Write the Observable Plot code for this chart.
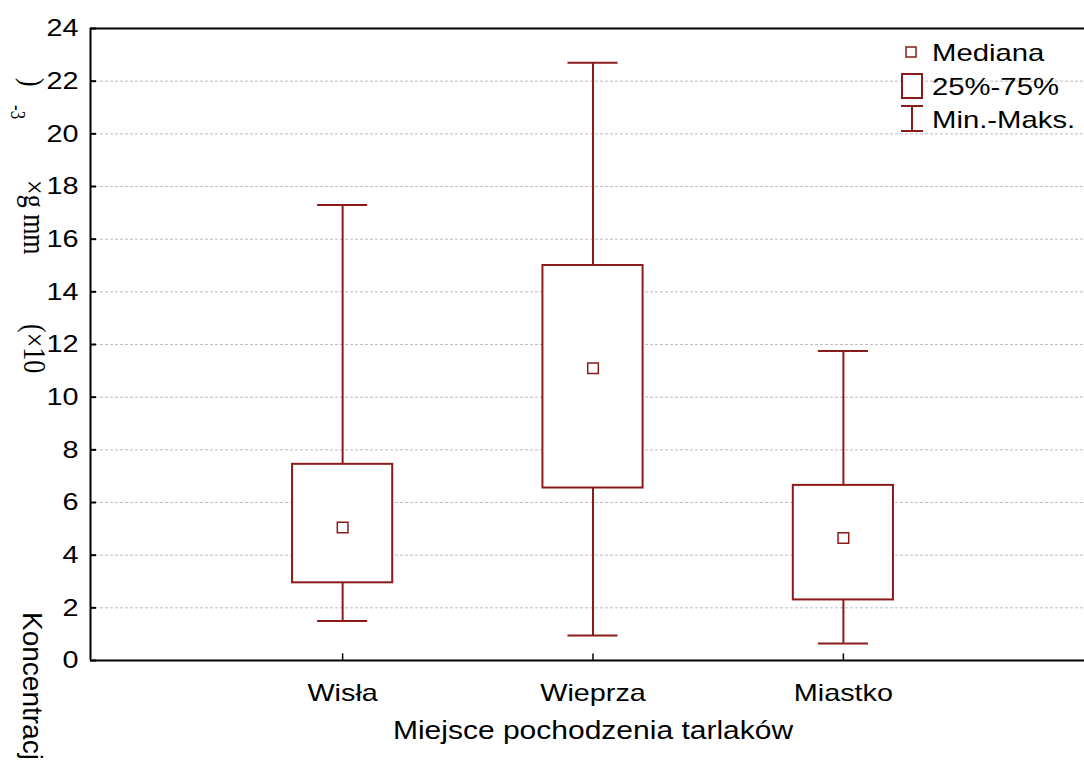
<!DOCTYPE html>
<html><head><meta charset="utf-8">
<script src="https://cdn.jsdelivr.net/npm/d3@7"></script>
<script src="https://cdn.jsdelivr.net/npm/@observablehq/plot@0.6"></script>
<style>body{margin:0;background:#fff;overflow:hidden}</style>
</head><body><div id="chart"></div>
<script>
const categories = ["Wisła", "Wieprza", "Miastko"];
const minValues = [1.5, 0.95, 0.65];
const q1Values = [2.95, 6.55, 2.3];
const medianValues = [5.05, 11.1, 4.65];
const q3Values = [7.45, 15.0, 6.65];
const maxValues = [17.3, 22.7, 11.75];
const yTicks = [0, 2, 4, 6, 8, 10, 12, 14, 16, 18, 20, 22, 24];
const gridTicks = [2, 4, 6, 8, 10, 12, 14, 16, 18, 20, 22];
const legendLabels = ["Mediana", "25%-75%", "Min.-Maks."];
const xTitle = "Miejsce pochodzenia tarlaków";
const yLabelParts = ["Koncentracja", "(×10", "×g mm", "-3", ")"];

const red = "#8b1a1a";
const xMin = -0.007, xMax = 3.963;
const boxes = categories.map((c, i) => ({
  cat: c, pos: i + 1, min: minValues[i], q1: q1Values[i], med: medianValues[i], q3: q3Values[i], max: maxValues[i]
}));

const svg = Plot.plot({
  width: 1084, height: 760,
  marginLeft: 90, marginRight: 0, marginTop: 28, marginBottom: 100,
  style: {fontFamily: "'Liberation Sans', Arial, sans-serif", fontSize: "24px", color: "#000", background: "#fff", overflow: "visible"},
  x: {type: "linear", domain: [xMin, xMax], axis: null},
  y: {domain: [0, 24], axis: null},
  marks: [
    Plot.ruleY(gridTicks, {stroke: "#bdbdbd", strokeDasharray: "3,2", strokeWidth: 1}),
    Plot.ruleX(boxes, {x: "pos", y1: "min", y2: "q1", stroke: red, strokeWidth: 2}),
    Plot.ruleX(boxes, {x: "pos", y1: "q3", y2: "max", stroke: red, strokeWidth: 2}),
    Plot.ruleY(boxes, {y: "min", x1: d => d.pos - 0.1, x2: d => d.pos + 0.1, stroke: red, strokeWidth: 2}),
    Plot.ruleY(boxes, {y: "max", x1: d => d.pos - 0.1, x2: d => d.pos + 0.1, stroke: red, strokeWidth: 2}),
    Plot.rect(boxes, {x1: d => d.pos - 0.2, x2: d => d.pos + 0.2, y1: "q1", y2: "q3", fill: "white", stroke: red, strokeWidth: 2}),
    Plot.dot(boxes, {x: "pos", y: "med", symbol: "square", r: 6, stroke: red, fill: "white", strokeWidth: 1.5}),
    Plot.ruleY(yTicks, {x1: xMin, x2: xMin + 0.024, stroke: "#000", strokeWidth: 2}),
    Plot.ruleX(boxes, {x: "pos", y1: 0, y2: 0.25, stroke: "#000", strokeWidth: 1.5}),
    Plot.ruleX([xMin], {y1: 0, y2: 24, stroke: "#000", strokeWidth: 2}),
    Plot.ruleY([0, 24], {x1: xMin, x2: xMax, stroke: "#000", strokeWidth: 2}),
    Plot.axisY(yTicks, {x: xMin, tickSize: 0, tickPadding: 12, fontSize: 24, label: null}),
    Plot.axisX([1, 2, 3], {tickSize: 0, tickPadding: 23, fontSize: 24, label: null, tickFormat: d => categories[d - 1]}),
    Plot.text([xTitle], {x: () => 2, text: d => d, frameAnchor: "bottom", dy: 78, fontSize: 25})
  ]
});
document.getElementById("chart").appendChild(svg);

// horizontal stretch of text as in the reference
function stretch(el, k) {
  const len = el.getComputedTextLength();
  el.setAttribute("textLength", len * k);
  el.setAttribute("lengthAdjust", "spacingAndGlyphs");
}
svg.querySelectorAll("text").forEach(t => stretch(t, 1.2));

const s = d3.select(svg);
// Legend
const lg = s.append("g").attr("fill", "none").attr("stroke", red).attr("stroke-width", 2);
lg.append("rect").attr("x", 906).attr("y", 47).attr("width", 10).attr("height", 10).attr("stroke-width", 1.5).attr("fill", "white");
lg.append("rect").attr("x", 902).attr("y", 74).attr("width", 20).attr("height", 24).attr("fill", "white");
lg.append("line").attr("x1", 912).attr("x2", 912).attr("y1", 106).attr("y2", 131);
lg.append("line").attr("x1", 901).attr("x2", 923).attr("y1", 106).attr("y2", 106);
lg.append("line").attr("x1", 901).attr("x2", 923).attr("y1", 131).attr("y2", 131);
const lgy = [61, 95, 128];
legendLabels.forEach((l, i) => {
  const t = s.append("text").attr("x", 932).attr("y", lgy[i]).attr("font-size", 24)
    .attr("text-anchor", "start")
    .attr("font-family", "'Liberation Sans', Arial, sans-serif").attr("fill", "#000").text(l);
  stretch(t.node(), 1.22);
});

// Y axis label pieces (rotated, as rendered in the reference)
const yl = [
  {text: yLabelParts[0], x: 23, y: 612, size: 28, k: 1.0, font: "'Liberation Sans', Arial, sans-serif"},
  {text: yLabelParts[1], x: 24, y: 324, size: 26, k: 1.2, font: "'Liberation Serif', 'Times New Roman', serif"},
  {text: yLabelParts[2], x: 24, y: 180, size: 26, k: 1.2, font: "'Liberation Serif', 'Times New Roman', serif"},
  {text: yLabelParts[3], x: 11, y: 105, size: 17, k: 1.2, font: "'Liberation Serif', 'Times New Roman', serif"},
  {text: yLabelParts[4], x: 22, y: 78, size: 26, k: 1.2, font: "'Liberation Serif', 'Times New Roman', serif"}
];
yl.forEach(p => {
  s.append("text").attr("transform", `translate(${p.x},${p.y}) scale(${p.k},1) rotate(90)`)
    .attr("text-anchor", "start")
    .attr("font-size", p.size).attr("font-family", p.font).attr("fill", "#000").text(p.text);
});
</script>
</body></html>
